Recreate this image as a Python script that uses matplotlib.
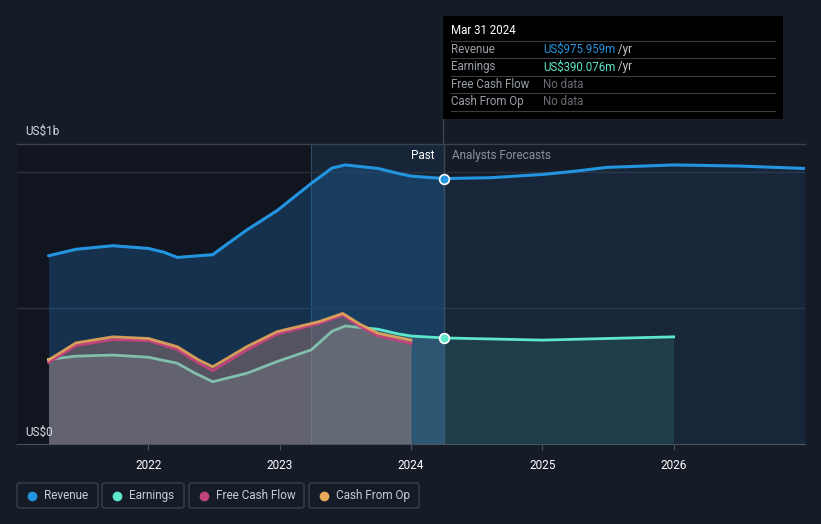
#!/usr/bin/env python3
# Revenue / earnings history + analyst forecast, dark card style
import matplotlib.pyplot as plt
from matplotlib.patches import FancyBboxPatch, Rectangle
from matplotlib.lines import Line2D

plt.rcParams['font.family'] = ['Roboto', 'DejaVu Sans']

# ---- DATA (US$ billions, x in decimal years) ----
rev_t = [2021.24, 2021.45, 2021.73, 2022.0, 2022.12, 2022.22, 2022.49, 2022.6,
         2022.75, 2022.98, 2023.24, 2023.4, 2023.5, 2023.75, 2023.9, 2024.0, 2024.25]
rev_v = [0.692, 0.716, 0.729, 0.719, 0.705, 0.686, 0.696, 0.735,
         0.787, 0.858, 0.958, 1.015, 1.026, 1.013, 0.995, 0.985, 0.976]
rev_fc_t = [2024.25, 2024.6, 2025.0, 2025.25, 2025.49, 2026.0, 2026.5, 2027.0]
rev_fc_v = [0.976, 0.979, 0.991, 1.003, 1.017, 1.026, 1.022, 1.013]

earn_t = [2021.24, 2021.45, 2021.73, 2022.0, 2022.22, 2022.35, 2022.49, 2022.75,
          2022.98, 2023.24, 2023.4, 2023.5, 2023.6, 2023.75, 2023.9, 2024.0, 2024.25]
earn_v = [0.311, 0.323, 0.327, 0.319, 0.297, 0.262, 0.229, 0.260,
          0.303, 0.346, 0.415, 0.434, 0.429, 0.422, 0.405, 0.397, 0.390]
earn_fc_t = [2024.25, 2025.0, 2026.0]
earn_fc_v = [0.390, 0.382, 0.394]

cfo_t = [2021.24, 2021.45, 2021.73, 2022.0, 2022.22, 2022.38, 2022.49, 2022.6,
         2022.75, 2022.98, 2023.3, 2023.48, 2023.61, 2023.75, 2024.0]
cfo_v = [0.309, 0.372, 0.394, 0.388, 0.358, 0.310, 0.284, 0.315,
         0.358, 0.413, 0.450, 0.480, 0.441, 0.407, 0.382]
fcf_v = [0.300, 0.362, 0.384, 0.380, 0.348, 0.298, 0.270, 0.302,
         0.346, 0.404, 0.443, 0.474, 0.433, 0.397, 0.370]

years = [2022, 2023, 2024, 2025, 2026]
now = 2024.25
band_start = 2023.24

BG = '#151c27'
BLUE, TEAL, PINK, ORANGE = '#2394df', '#5ee6cc', '#c0437d', '#e8a85a'

fig = plt.figure(figsize=(8.21, 5.24), dpi=100, facecolor=BG)
ax = fig.add_axes([17/821, 1-444/524, 788/821, 300/524])
ax.set_facecolor(BG)
ax.set_xlim(2021.0, 2027.0)
ax.set_ylim(0, 1.103)

# background regions
ax.axvspan(2021.0, band_start, color='#0e1119', alpha=0.55, lw=0, zorder=0)
ax.axvspan(band_start, now, color='#1f6fae', alpha=0.13, lw=0, zorder=0)
ax.axvline(band_start, color='#2c4a66', lw=0.8, zorder=0.5)

# grid
for g in (0.5, 1.0):
    ax.axhline(g, color='#2a313d', lw=1, zorder=0.6)
ax.axhline(1.103, color='#3a414d', lw=1, zorder=0.6, clip_on=False)

# revenue
ax.fill_between(rev_t, rev_v, color='#1e6fb0', alpha=0.32, lw=0, zorder=1)
ax.fill_between(rev_fc_t, rev_fc_v, color='#2a78b8', alpha=0.13, lw=0, zorder=1)
ax.plot(rev_t, rev_v, color=BLUE, lw=2.2, zorder=3, solid_capstyle='round')
ax.plot(rev_fc_t, rev_fc_v, color=BLUE, lw=2.2, zorder=3)

# earnings
ax.fill_between(earn_t, earn_v, color='#7ab0bc', alpha=0.22, lw=0, zorder=1.5)
ax.fill_between(earn_fc_t, earn_fc_v, color='#3f8f8f', alpha=0.22, lw=0, zorder=1.5)
ax.plot(earn_t, earn_v, color=TEAL, lw=2.0, zorder=2)
ax.plot(earn_fc_t, earn_fc_v, color=TEAL, lw=2.0, zorder=3)

# cash flows (fills sit over the earnings line, muting it)
ax.fill_between(cfo_t, cfo_v, color='#c0a08a', alpha=0.30, lw=0, zorder=2.2)
ax.fill_between(cfo_t, fcf_v, color='#a85a6a', alpha=0.15, lw=0, zorder=2.3)
ax.plot(cfo_t, fcf_v, color=PINK, lw=2.0, zorder=2.6)
ax.plot(cfo_t, cfo_v, color=ORANGE, lw=2.0, alpha=0.9, zorder=2.7)

# current markers
ax.plot([now], [rev_v[-1]], 'o', ms=7, mfc=BLUE, mec='white', mew=1.2, zorder=5)
ax.plot([now], [earn_v[-1]], 'o', ms=7, mfc=TEAL, mec='white', mew=1.2, zorder=5)
ax.axvline(now, ymin=0, ymax=1.0, color='#3a4658', lw=1, zorder=0.7)
fig.add_artist(Line2D([443/821, 443/821], [1-144/524, 1-119/524],
                      color='#3a4658', lw=1))

ax.text(now - 0.07, 1.06, 'Past', color='white', fontsize=8.5, ha='right', va='center')
ax.text(now + 0.06, 1.06, 'Analysts Forecasts', color='#8b929c', fontsize=8.5,
        ha='left', va='center')

# axes cosmetics
for s in ('top', 'left', 'right'):
    ax.spines[s].set_visible(False)
ax.spines['bottom'].set_color('#4a5160')
ax.set_yticks([])
ax.set_xticks(years)
ax.set_xticklabels([str(y) for y in years])
ax.tick_params(axis='x', colors='#4a5160', labelcolor='white', labelsize=8.5,
               length=4, pad=7)

fig.text(25/821, 1-131/524, 'US$1b', color='#d6dae0', fontsize=8.5, va='center')
fig.text(25/821, 1-432/524, 'US$0', color='#d6dae0', fontsize=8.5, va='center')

# tooltip
fig.add_artist(Rectangle((443/821, 1-119/524), 340/821, 103/524,
                         facecolor='black', edgecolor='none'))
fig.text(451/821, 1-31/524, 'Mar 31 2024', color='white', fontsize=8.3, va='center')
for yy in (41, 58, 76, 93, 111):
    fig.add_artist(Line2D([451/821, 775/821], [1-yy/524, 1-yy/524],
                          color='#3a3d42', lw=0.8))
rows = [('Revenue', 'US$975.959m', BLUE, ' /yr'),
        ('Earnings', 'US$390.076m', TEAL, ' /yr'),
        ('Free Cash Flow', 'No data', '#6a6e74', ''),
        ('Cash From Op', 'No data', '#6a6e74', '')]
for i, (lab, val, col, unit) in enumerate(rows):
    yy = 1 - (49.5 + i*17.4)/524
    fig.text(451/821, yy, lab, color='#9ba0a8', fontsize=8.3, va='center')
    t = fig.text(543/821, yy, val, color=col, fontsize=8.3, va='center')
    if unit:
        fig.canvas.draw()
        bb = t.get_window_extent()
        fig.text(bb.x1/821, yy, unit, color='#c8ccd2', fontsize=8.3, va='center')

# legend chips
chips = [('Revenue', BLUE, 17, 81), ('Earnings', TEAL, 102, 82),
         ('Free Cash Flow', PINK, 189, 115), ('Cash From Op', ORANGE, 309, 110)]
for lab, col, x0, w in chips:
    fig.add_artist(FancyBboxPatch((x0/821, 1-508/524), w/821, 25/524,
                                  boxstyle='round,pad=0,rounding_size=0.004',
                                  facecolor='none', edgecolor='#3a404c', lw=1))
    fig.add_artist(Line2D([(x0+15)/821], [1-495.5/524], marker='o', ms=6,
                          color=col, lw=0))
    fig.text((x0+27)/821, 1-495.5/524, lab, color='#c8ccd2', fontsize=8.5,
             va='center')

fig.savefig('out.png', dpi=100, facecolor=BG)
